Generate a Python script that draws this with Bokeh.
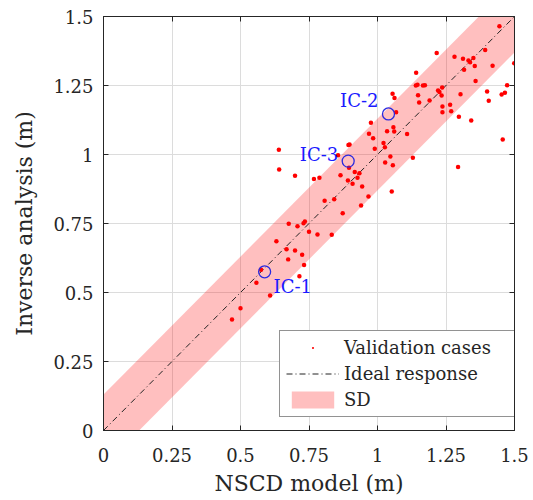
from bokeh.plotting import figure
from bokeh.models import (Range1d, LinearAxis, FixedTicker, Legend, LegendItem,
                          ColumnDataSource, CustomLabelingPolicy)
from bokeh.core.properties import value
from bokeh.embed import file_html
from bokeh.resources import INLINE

# ---------------- data ----------------
nscd = [0.676, 0.708, 0.735, 0.730, 0.750, 0.781, 0.631, 0.668, 0.699, 0.725, 0.674, 0.732,
        0.715, 0.558, 0.608, 0.500, 0.469, 0.575,
        0.640, 0.898, 0.894, 0.856, 0.641, 0.699, 0.768, 0.788, 0.865, 0.896, 0.917, 0.892,
        0.909, 0.927, 0.967, 0.807, 0.842, 0.873, 0.940, 0.833,
        1.140, 1.146, 1.166, 1.173, 1.221, 1.226, 1.055, 1.148, 1.062, 1.190, 1.152, 1.068,
        0.976, 1.058, 1.035, 1.061, 1.108, 0.969, 0.984, 1.022, 0.990, 1.027, 1.047, 1.129,
        1.028, 1.056, 0.934, 0.944, 1.052, 1.141,
        1.445, 1.216, 1.281, 1.312, 1.332, 1.350, 1.355, 1.338, 1.393, 1.420, 1.499, 1.316,
        1.358, 1.236, 1.234, 1.303, 1.400, 1.406, 1.453, 1.465, 1.473, 1.237, 1.265, 1.237,
        1.269, 1.297, 1.342, 1.457, 1.294]
inverse = [0.749, 0.740, 0.757, 0.751, 0.720, 0.710, 0.686, 0.657, 0.652, 0.637, 0.620, 0.600,
           0.559, 0.535, 0.489, 0.443, 0.402, 0.582,
           1.017, 1.036, 1.034, 0.997, 0.946, 0.923, 0.911, 0.916, 0.925, 0.952, 0.937, 0.906,
           0.894, 0.916, 0.848, 0.832, 0.838, 0.787, 0.815, 0.709,
           1.250, 1.253, 1.250, 1.251, 1.232, 1.226, 1.220, 1.215, 1.205, 1.196, 1.188, 1.153,
           1.115, 1.099, 1.084, 1.083, 1.074, 1.075, 1.059, 1.042, 1.021, 1.026, 0.993, 0.988,
           0.971, 0.961, 0.932, 0.884, 0.866, 1.296,
           1.465, 1.368, 1.354, 1.347, 1.341, 1.350, 1.321, 1.334, 1.379, 1.322, 1.331, 1.307,
           1.266, 1.243, 1.214, 1.218, 1.228, 1.195, 1.217, 1.224, 1.251, 1.174, 1.180, 1.153,
           1.157, 1.137, 1.123, 1.054, 0.955]

ic_names = ["IC-1", "IC-2", "IC-3"]
ic_nscd = [0.588, 1.040, 0.893]
ic_inverse = [0.575, 1.147, 0.976]

sd = 0.13
ideal_x = [0.0, 1.5]
ideal_y = [0.0, 1.5]

ticks = [0, 0.25, 0.5, 0.75, 1, 1.25, 1.5]
tick_labels = ["0", "0.25", "0.5", "0.75", "1", "1.25", "1.5"]

# ---------------- styling ----------------
FONT = "DejaVu Serif"
AX = "#262626"
GRID = "#dcdcdc"

p = figure(width=533, height=500, x_range=Range1d(0, 1.5), y_range=Range1d(0, 1.5),
           output_backend="svg", toolbar_location=None,
           min_border_left=103, min_border_right=19, min_border_top=16, min_border_bottom=70)
p.background_fill_color = "white"
p.border_fill_color = "white"
p.outline_line_color = AX
p.outline_line_width = 1

overrides = {t: l for t, l in zip(ticks, tick_labels)}

top_axis = LinearAxis()
right_axis = LinearAxis()
p.add_layout(top_axis, "above")
p.add_layout(right_axis, "right")
bottom_axis = p.below[0]
left_axis = p.left[0]

for ax in [bottom_axis, left_axis, top_axis, right_axis]:
    ax.ticker = FixedTicker(ticks=ticks)
    ax.major_label_overrides = overrides
    ax.major_tick_in = 5
    ax.major_tick_out = 0
    ax.minor_tick_line_color = None
    ax.axis_line_color = AX
    ax.major_tick_line_color = AX
    ax.major_label_text_font = FONT
    ax.major_label_text_font_size = "18px"
    ax.major_label_text_color = AX
    ax.axis_label_text_font = FONT
    ax.axis_label_text_font_size = "22px"
    ax.axis_label_text_font_style = "normal"
    ax.axis_label_text_color = AX

hide_all = CustomLabelingPolicy(code="for (const i of indices) { if (false) yield i }")
for ax in [top_axis, right_axis]:
    ax.major_label_policy = hide_all
    ax.major_label_text_font_size = "1px"
    ax.major_label_standoff = 0

bottom_axis.axis_label = "NSCD model (m)"
left_axis.axis_label = "Inverse analysis (m)"
bottom_axis.major_label_standoff = 17
left_axis.major_label_standoff = 10
bottom_axis.axis_label_standoff = 6
left_axis.axis_label_standoff = 13

p.xgrid.ticker = FixedTicker(ticks=ticks)
p.ygrid.ticker = FixedTicker(ticks=ticks)
p.grid.grid_line_color = GRID
p.grid.grid_line_width = 1

# SD band
band_lo = [v - sd for v in ideal_y]
band_hi = [v + sd for v in ideal_y]
r_band = p.varea(x=ideal_x, y1=band_lo, y2=band_hi, fill_color="red", fill_alpha=0.25)

# Ideal response
r_line = p.line(ideal_x, ideal_y, line_color="#222222", line_width=1, line_dash="6 3 1 3")

# Validation cases (small dots)
r_pts = p.scatter(nscd, inverse, marker="dot", size=18, line_color="red", fill_color="red")

# IC circles and labels
p.scatter(ic_nscd, ic_inverse, marker="circle", size=12, fill_color=None,
          line_color="#2a2ae0", line_width=1.3)

label_dx = [9, -10, -10]
label_dy = [15, -13, -7]
label_align = ["left", "right", "right"]
src = ColumnDataSource(dict(x=ic_nscd, y=ic_inverse, t=ic_names,
                            dx=label_dx, dy=label_dy, al=label_align))
p.text(x="x", y="y", text="t", x_offset="dx", y_offset="dy", text_align="al",
       text_baseline="middle", text_font=value(FONT), text_font_size="18px",
       text_color="#1a1aff", source=src)

legend = Legend(items=[
    LegendItem(label="Validation cases", renderers=[r_pts]),
    LegendItem(label="Ideal response", renderers=[r_line]),
    LegendItem(label="SD", renderers=[r_band]),
], location=(176, 13))
legend.margin = 0
legend.padding = 6
legend.spacing = 5
legend.glyph_width = 53
legend.glyph_height = 21
legend.label_height = 21
legend.label_width = 164
legend.label_standoff = 5
legend.label_text_font = FONT
legend.label_text_font_size = "18px"
legend.label_text_color = AX
legend.border_line_color = AX
legend.border_line_width = 1
legend.background_fill_alpha = 1
p.add_layout(legend, "center")

open("out.html", "w").write(file_html(p, INLINE))
